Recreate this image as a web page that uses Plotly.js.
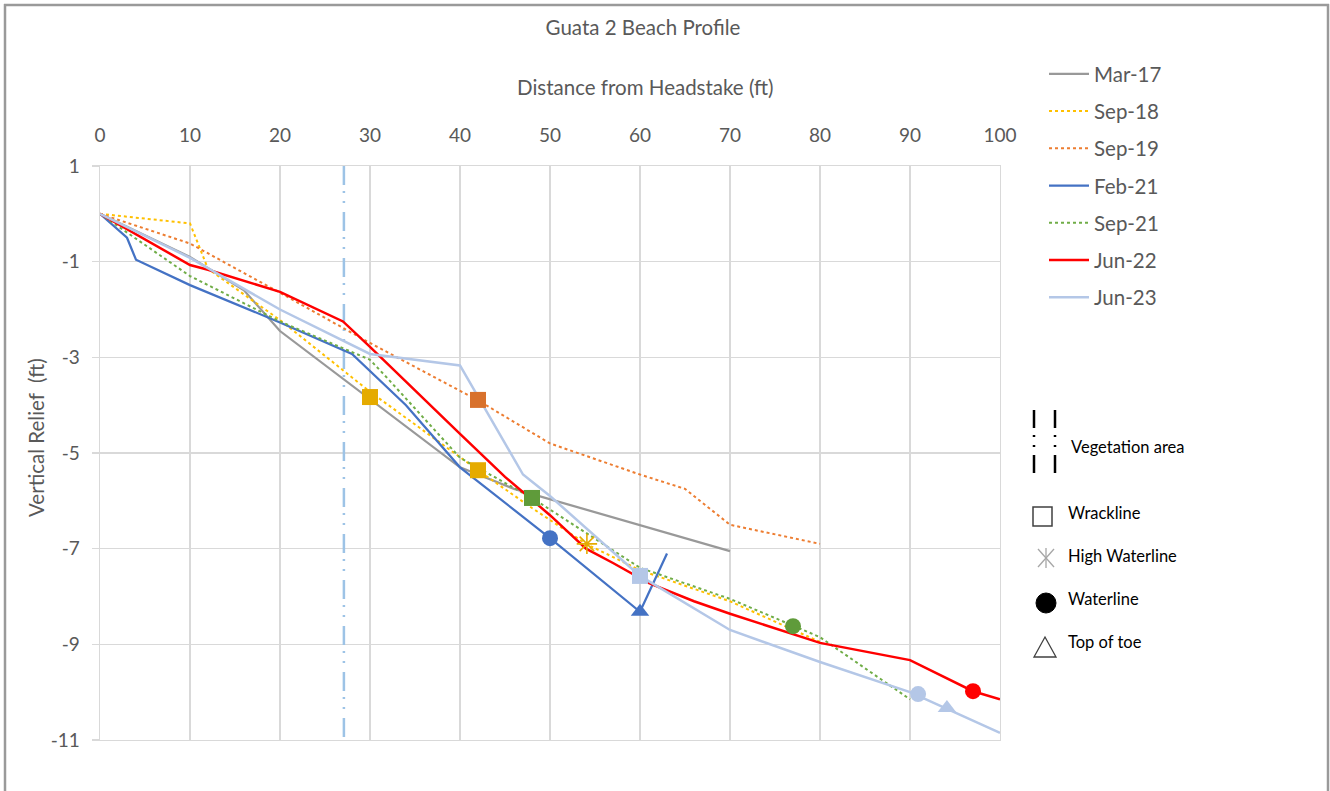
<!DOCTYPE html>
<html>
<head>
<meta charset="utf-8">
<script src="https://cdn.plot.ly/plotly-3.0.1.min.js"></script>
<style>html,body{margin:0;padding:0;background:#fff;}#chart{width:1330px;height:791px;}</style>
</head>
<body>
<div id="chart"></div>
<script>
// ---------- data ----------
const seriesNames = ['Mar-17', 'Sep-18', 'Sep-19', 'Feb-21', 'Sep-21', 'Jun-22', 'Jun-23'];

const mar17X = [0, 10, 16, 20, 40, 46, 70];
const mar17Y = [0, -0.9, -1.6, -2.45, -5.3, -5.75, -7.05];

const sep18X = [0, 10, 12, 20, 30, 42, 48, 54, 60, 70, 80];
const sep18Y = [0, -0.2, -1.15, -2.22, -3.72, -5.36, -6.15, -6.9, -7.45, -8.1, -8.95];

const sep19X = [0, 10, 20, 30, 42, 50, 60, 65, 70, 80];
const sep19Y = [0, -0.62, -1.65, -2.7, -3.9, -4.8, -5.45, -5.75, -6.5, -6.9];

const feb21X = [0, 3, 4, 10, 20, 28, 34, 40, 50, 60, 63];
const feb21Y = [0, -0.5, -0.96, -1.49, -2.27, -2.93, -4.0, -5.3, -6.78, -8.32, -7.1];

const sep21X = [0, 10, 20, 28, 30, 32, 40, 48, 60, 70, 80, 90];
const sep21Y = [0, -1.3, -2.25, -2.88, -3.05, -3.45, -5.1, -5.94, -7.4, -8.05, -8.85, -10.15];

const jun22X = [0, 10, 12, 20, 27, 30, 40, 45, 50, 54, 57, 61, 66, 70, 80, 90, 97, 100];
const jun22Y = [0, -1.07, -1.17, -1.63, -2.25, -2.78, -4.6, -5.5, -6.3, -7.0, -7.3, -7.72, -8.1, -8.36, -8.97, -9.33, -9.98, -10.15];

const jun23X = [0, 10, 20, 30, 40, 47, 50, 60, 70, 80, 90, 100];
const jun23Y = [0, -0.92, -2.0, -2.93, -3.17, -5.45, -5.9, -7.57, -8.7, -9.37, -10.0, -10.85];

// feature markers
const wracklineX = [30, 42, 42, 48, 60];
const wracklineY = [-3.83, -5.36, -3.89, -5.94, -7.57];
const wracklineSeries = ['Sep-18', 'Sep-18', 'Sep-19', 'Sep-21', 'Jun-23'];

const highWaterlineX = [54.1];
const highWaterlineY = [-6.9];
const highWaterlineSeries = ['Sep-18'];

const waterlineX = [50, 77, 97, 90.9];
const waterlineY = [-6.78, -8.62, -9.98, -10.04];
const waterlineSeries = ['Feb-21', 'Sep-21', 'Jun-22', 'Jun-23'];

const topOfToeX = [60, 94.1];
const topOfToeY = [-8.32, -10.33];
const topOfToeSeries = ['Feb-21', 'Jun-23'];

const vegetationX = 27.1;

const xTickVals = [0, 10, 20, 30, 40, 50, 60, 70, 80, 90, 100];
const yTickVals = [1, -1, -3, -5, -7, -9, -11];

// ---------- styles ----------
const FONT = 'Lato, "Open Sans", "Liberation Sans", sans-serif';
const TXT = '#595959';
const style = {
  'Mar-17': {color: '#999999', dash: 'solid', width: 2.25, mark: '#999999'},
  'Sep-18': {color: '#FFC000', dash: 'dot', width: 2, mark: '#E5AB00'},
  'Sep-19': {color: '#ED7D31', dash: 'dot', width: 2, mark: '#D8712C'},
  'Feb-21': {color: '#4472C4', dash: 'solid', width: 2.25, mark: '#4472C4'},
  'Sep-21': {color: '#70AD47', dash: 'dot', width: 2, mark: '#5F9B3A'},
  'Jun-22': {color: '#FF0000', dash: 'solid', width: 2.5, mark: '#FF0000'},
  'Jun-23': {color: '#B4C7E7', dash: 'solid', width: 2.5, mark: '#B4C7E7'}
};
const seriesX = [mar17X, sep18X, sep19X, feb21X, sep21X, jun22X, jun23X];
const seriesY = [mar17Y, sep18Y, sep19Y, feb21Y, sep21Y, jun22Y, jun23Y];

const traces = [];
traces.push({
  x: [vegetationX, vegetationX], y: [1, -11], mode: 'lines', showlegend: false, hoverinfo: 'skip',
  line: {color: '#9DC3E6', width: 2.5, dash: '19px,6px,2px,8px,2px,9px'}
});
seriesNames.forEach((n, i) => {
  const s = style[n];
  traces.push({
    x: seriesX[i], y: seriesY[i], name: n, mode: 'lines', legendgroup: n,
    line: {color: s.color, width: s.width, dash: s.dash}
  });
});
function markerTrace(xs, ys, ser, symbol, size, open) {
  return {
    x: xs, y: ys, mode: 'markers', showlegend: false, hoverinfo: 'x+y',
    marker: {
      symbol: symbol, size: size,
      color: ser.map(n => style[n].mark),
      line: open ? {color: ser.map(n => style[n].color), width: 1.6} : {width: 0}
    }
  };
}
traces.push(markerTrace(wracklineX, wracklineY, wracklineSeries, 'square', 16, false));
traces.push(markerTrace(highWaterlineX, highWaterlineY, highWaterlineSeries, 'asterisk-open', 17, true));
traces.push(markerTrace(waterlineX, waterlineY, waterlineSeries, 'circle', 16, false));
traces.push(markerTrace(topOfToeX, topOfToeY, topOfToeSeries, 'triangle-up', 16, false));

// ---------- pixel helpers for decorations ----------
const L = 100, R = 1000, T = 166, B = 740;
const px = p => (p - L) / (R - L);
const py = p => (B - p) / (B - T);

const shapes = [];
const frameColor = '#9A9A9A';
shapes.push({type: 'line', xref: 'paper', yref: 'paper', x0: px(5), x1: px(5), y0: py(4), y1: py(800), line: {color: frameColor, width: 2.5}});
shapes.push({type: 'line', xref: 'paper', yref: 'paper', x0: px(4), x1: px(1329), y0: py(5), y1: py(5), line: {color: frameColor, width: 2.5}});
shapes.push({type: 'line', xref: 'paper', yref: 'paper', x0: px(1328), x1: px(1328), y0: py(4), y1: py(800), line: {color: frameColor, width: 2.5}});
[1034, 1055].forEach(xx => {
  shapes.push({type: 'line', xref: 'paper', yref: 'paper', x0: px(xx), x1: px(xx), y0: py(410), y1: py(428), line: {color: '#000', width: 2.5}});
  shapes.push({type: 'line', xref: 'paper', yref: 'paper', x0: px(xx), x1: px(xx), y0: py(435), y1: py(437), line: {color: '#000', width: 2.5}});
  shapes.push({type: 'line', xref: 'paper', yref: 'paper', x0: px(xx), x1: px(xx), y0: py(445), y1: py(447), line: {color: '#000', width: 2.5}});
  shapes.push({type: 'line', xref: 'paper', yref: 'paper', x0: px(xx), x1: px(xx), y0: py(455), y1: py(473), line: {color: '#000', width: 2.5}});
});
shapes.push({type: 'rect', xref: 'paper', yref: 'paper', x0: px(1033), x1: px(1052), y0: py(526), y1: py(507), line: {color: '#404040', width: 1.5}, fillcolor: 'rgba(0,0,0,0)'});
const cx = 1046, cy = 558;
shapes.push({type: 'line', xref: 'paper', yref: 'paper', x0: px(cx), x1: px(cx), y0: py(cy - 10), y1: py(cy + 10), line: {color: '#A6A6A6', width: 1.3}});
shapes.push({type: 'line', xref: 'paper', yref: 'paper', x0: px(cx - 8), x1: px(cx + 8), y0: py(cy - 9), y1: py(cy + 9), line: {color: '#A6A6A6', width: 1.3}});
shapes.push({type: 'line', xref: 'paper', yref: 'paper', x0: px(cx + 8), x1: px(cx - 8), y0: py(cy - 9), y1: py(cy + 9), line: {color: '#A6A6A6', width: 1.3}});
shapes.push({type: 'circle', xref: 'paper', yref: 'paper', x0: px(1036), x1: px(1056), y0: py(613), y1: py(593), line: {color: '#000', width: 1}, fillcolor: '#000'});
shapes.push({type: 'path', xref: 'paper', yref: 'paper',
  path: `M ${px(1034)} ${py(657)} L ${px(1056)} ${py(657)} L ${px(1045)} ${py(637)} Z`,
  line: {color: '#404040', width: 1.3}, fillcolor: 'rgba(0,0,0,0)'});

const annotations = [
  {text: 'Distance from Headstake (ft)', xref: 'paper', yref: 'paper', x: px(645), y: py(87), showarrow: false, xanchor: 'center', yanchor: 'middle', font: {family: FONT, size: 20.5, color: TXT}},
  {text: 'Vertical Relief  (ft)', xref: 'paper', yref: 'paper', x: px(36), y: py(438), showarrow: false, textangle: -90, xanchor: 'center', yanchor: 'middle', font: {family: FONT, size: 20.5, color: TXT}},
  {text: 'Vegetation area', xref: 'paper', yref: 'paper', x: px(1069), y: py(447), showarrow: false, xanchor: 'left', yanchor: 'middle', font: {family: FONT, size: 16.5, color: '#000'}},
  {text: 'Wrackline', xref: 'paper', yref: 'paper', x: px(1066), y: py(513), showarrow: false, xanchor: 'left', yanchor: 'middle', font: {family: FONT, size: 16.5, color: '#000'}},
  {text: 'High Waterline', xref: 'paper', yref: 'paper', x: px(1066), y: py(556), showarrow: false, xanchor: 'left', yanchor: 'middle', font: {family: FONT, size: 16.5, color: '#000'}},
  {text: 'Waterline', xref: 'paper', yref: 'paper', x: px(1066), y: py(599), showarrow: false, xanchor: 'left', yanchor: 'middle', font: {family: FONT, size: 16.5, color: '#000'}},
  {text: 'Top of toe', xref: 'paper', yref: 'paper', x: px(1066), y: py(642), showarrow: false, xanchor: 'left', yanchor: 'middle', font: {family: FONT, size: 16.5, color: '#000'}}
];

const layout = {
  width: 1330, height: 791,
  margin: {l: L, r: 1330 - R, t: T, b: 791 - B, pad: 0},
  paper_bgcolor: '#fff', plot_bgcolor: '#fff',
  font: {family: FONT, color: TXT},
  title: {text: 'Guata 2 Beach Profile', xref: 'container', yref: 'container', x: 643 / 1330, y: 1 - 28 / 791, xanchor: 'center', yanchor: 'middle', font: {family: FONT, size: 20.5, color: TXT}},
  xaxis: {
    side: 'top', range: [0, 100], tickvals: xTickVals, ticktext: xTickVals.map(String),
    showgrid: true, gridcolor: '#D9D9D9', gridwidth: 1.3, zeroline: false,
    showline: true, mirror: true, linecolor: '#D9D9D9', linewidth: 1.3,
    ticks: '', ticklabelstandoff: 15, tickfont: {family: FONT, size: 19, color: TXT}, fixedrange: true
  },
  yaxis: {
    range: [-11, 1], tickvals: yTickVals, ticktext: yTickVals.map(String),
    showgrid: true, gridcolor: '#D9D9D9', gridwidth: 1.3, zeroline: false,
    showline: true, mirror: true, linecolor: '#D9D9D9', linewidth: 1.3,
    ticks: 'outside', ticklen: 7, tickcolor: '#D9D9D9', tickwidth: 1.3, ticklabelstandoff: 8,
    tickfont: {family: FONT, size: 19, color: TXT}, fixedrange: true
  },
  legend: {
    x: px(1044), y: py(54), xanchor: 'left', yanchor: 'top', bgcolor: 'rgba(0,0,0,0)',
    font: {family: FONT, size: 20.5, color: TXT}, traceorder: 'grouped', tracegroupgap: 7.6, itemwidth: 40
  },
  shapes: shapes,
  annotations: annotations,
  showlegend: true
};

Plotly.newPlot('chart', traces, layout, {displayModeBar: false, staticPlot: true});
</script>
</body>
</html>
